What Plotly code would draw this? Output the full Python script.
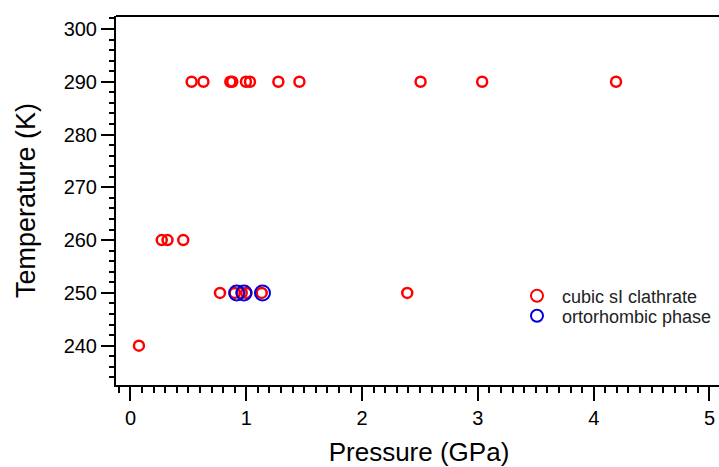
import plotly.graph_objects as go

# Data
cubic_p = [0.528, 0.63, 0.862, 0.879, 0.997, 1.032, 1.277, 1.459, 2.505, 3.037, 4.193,
           0.27, 0.32, 0.456,
           0.773, 0.90, 0.96, 1.00, 1.133, 2.39,
           0.073]
cubic_t = [290, 290, 290, 290, 290, 290, 290, 290, 290, 290, 290,
           260, 260, 260,
           250, 250, 250, 250, 250, 250,
           240]
ortho_p = [0.917, 0.98, 1.14]
ortho_t = [250, 250, 250]

x_ticks = [0, 1, 2, 3, 4, 5]
y_ticks = [240, 250, 260, 270, 280, 290, 300]

FONT = "Liberation Sans, Arial, sans-serif"

fig = go.Figure()
fig.add_trace(go.Scatter(
    x=cubic_p, y=cubic_t, mode="markers", name="&nbsp;cubic sI clathrate",
    legend="legend",
    marker=dict(symbol="circle-open", size=10, color="#FF0000",
                line=dict(width=2.5, color="#FF0000")),
))
fig.add_trace(go.Scatter(
    x=ortho_p, y=ortho_t, mode="markers", name="&nbsp;ortorhombic phase",
    legend="legend2",
    marker=dict(symbol="circle-open", size=15, color="#0000DD",
                line=dict(width=2, color="#0000DD")),
))

leg_common = dict(xanchor="left", yanchor="top", bgcolor="rgba(0,0,0,0)",
                  font=dict(size=18, color="#222222"), itemsizing="constant",
                  itemwidth=30)

fig.update_layout(
    width=722, height=467,
    margin=dict(l=116, r=0, t=16, b=82, autoexpand=False),
    paper_bgcolor="white", plot_bgcolor="white",
    font=dict(family=FONT, color="black"),
    showlegend=True,
    hovermode=False,
    legend=dict(x=0.6617, y=0.2913, **leg_common),
    legend2=dict(x=0.6617, y=0.2371, **leg_common),
    xaxis=dict(
        range=[-0.125, 5.108], tickvals=x_ticks, ticktext=[str(v) for v in x_ticks],
        automargin=False,
        showgrid=False, zeroline=False, showline=True, linecolor="black", linewidth=2,
        ticks="outside", ticklen=14, tickwidth=2, tickcolor="black",
        tickfont=dict(size=20, color="black"),
        minor=dict(dtick=0.1, ticks="outside", ticklen=6, tickwidth=2, tickcolor="black",
                   showgrid=False),
        title=dict(text="Pressure (GPa)", font=dict(size=26, color="black"), standoff=16),
    ),
    yaxis=dict(
        range=[232.55, 302.46], tickvals=y_ticks, ticktext=[str(v) for v in y_ticks],
        automargin=False,
        showgrid=False, zeroline=False, showline=True, linecolor="black", linewidth=2,
        ticks="outside", ticklen=13, tickwidth=2, tickcolor="black",
        tickfont=dict(size=20, color="black"),
        minor=dict(dtick=2, ticks="outside", ticklen=5, tickwidth=2, tickcolor="black",
                   showgrid=False),
        title=dict(text="Temperature (K)", font=dict(size=27, color="black"), standoff=20),
    ),
    shapes=[
        dict(type="rect", xref="paper", yref="paper", x0=0.9868, x1=1.0, y0=0.006, y1=0.992,
             fillcolor="white", line=dict(width=0), layer="above"),
        dict(type="line", xref="paper", yref="paper", x0=0, x1=1, y0=1, y1=1,
             line=dict(color="black", width=2)),
    ],
)

fig.write_html(
    "out.html",
    config={"displayModeBar": False},
    post_script="document.body.style.margin='0';document.body.style.overflow='hidden';",
)
